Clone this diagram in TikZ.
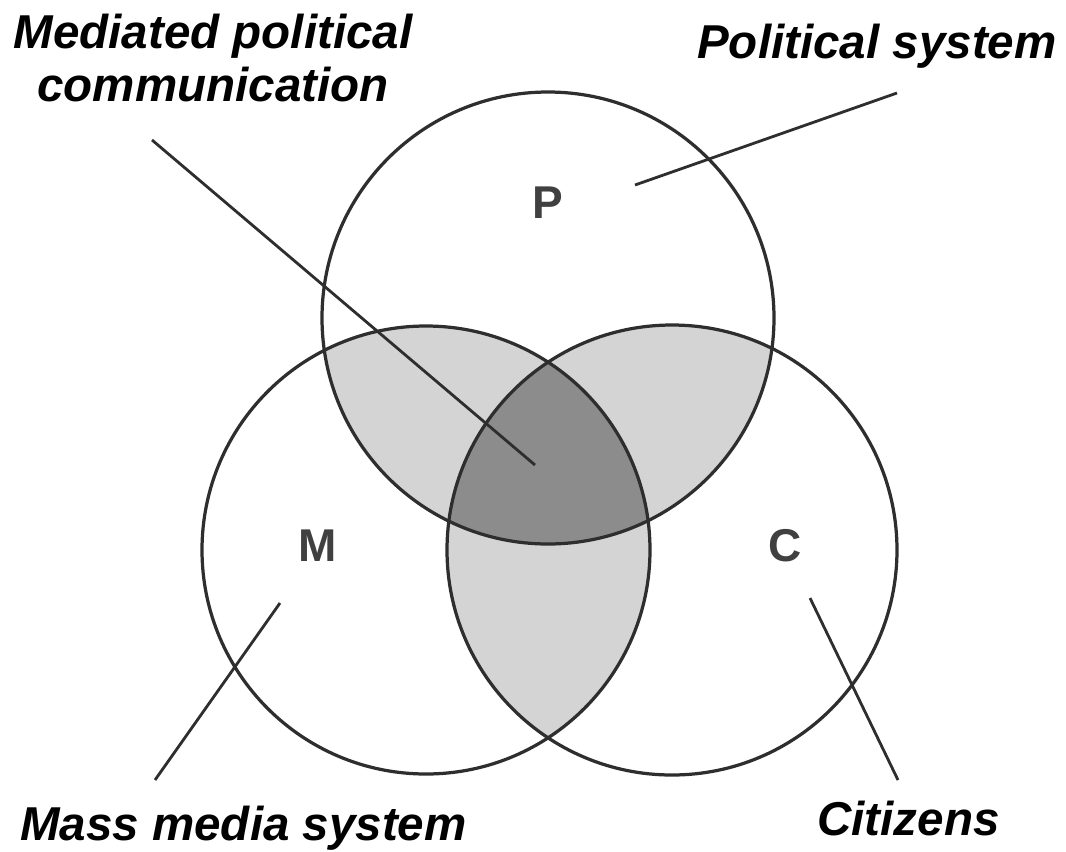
\documentclass[tikz,border=0pt]{standalone}
\usepackage{fontspec}
\setmainfont{Liberation Sans}
\definecolor{lightshade}{HTML}{D4D4D4}
\definecolor{darkshade}{HTML}{8C8C8C}
\definecolor{lettergray}{HTML}{404040}
\definecolor{linegray}{HTML}{2E2E2E}
\tikzset{
    label text/.style={font=\fontsize{33.8}{37.5}\selectfont\bfseries\itshape, inner sep=0pt},
    set letter/.style={font=\fontsize{32.7}{36}\selectfont\bfseries, text=lettergray, inner sep=0pt},
    set circle/.style={line width=2.3pt, linegray},
    pointer/.style={line width=2pt, linegray},
}
\begin{document}
\begin{tikzpicture}[x=0.025cm, y=-0.025cm]
        \useasboundingbox (0,0) rectangle (1066,851);

        % centres of the three sets
        \coordinate (P) at (548,318);
        \coordinate (M) at (426,550);
        \coordinate (C) at (672,550);

        % pairwise overlaps
        \begin{scope}
            \clip (P) circle (226);
            \fill[lightshade] (M) circle (224);
            \fill[lightshade] (C) circle (225);
        \end{scope}
        \begin{scope}
            \clip (M) circle (224);
            \fill[lightshade] (C) circle (225);
        \end{scope}

        % common part of all three
        \begin{scope}
            \clip (P) circle (226);
            \clip (M) circle (224);
            \fill[darkshade] (C) circle (225);
        \end{scope}

        \draw[set circle] (P) circle (226);
        \draw[set circle] (M) circle (224);
        \draw[set circle] (C) circle (225);

        \node[set letter] (p) at (548,203) {P};
        \node[set letter] (m) at (318,546) {M};
        \node[set letter] (c) at (785,546) {C};

        \node[label text, align=center] (mpc) at (213,58) {Mediated political\\communication};
        \node[label text, anchor=base west] (ps) at (697,58) {Political system};
        \node[label text, anchor=base west] (mms) at (20,840) {Mass media system};
        \node[label text, anchor=base west] (cit) at (817,835) {Citizens};

        % pointer ends
        \coordinate (mpc a) at (152,140);
        \coordinate (mpc b) at (535,465);
        \coordinate (ps a) at (897,93);
        \coordinate (ps b) at (635,185);
        \coordinate (mms a) at (155,780);
        \coordinate (mms b) at (280,603);
        \coordinate (cit a) at (898,780);
        \coordinate (cit b) at (810,598);

        \draw[pointer] (mpc a) -- (mpc b);
        \draw[pointer] (ps a) -- (ps b);
        \draw[pointer] (mms a) -- (mms b);
        \draw[pointer] (cit a) -- (cit b);

    \end{tikzpicture}
\end{document}
